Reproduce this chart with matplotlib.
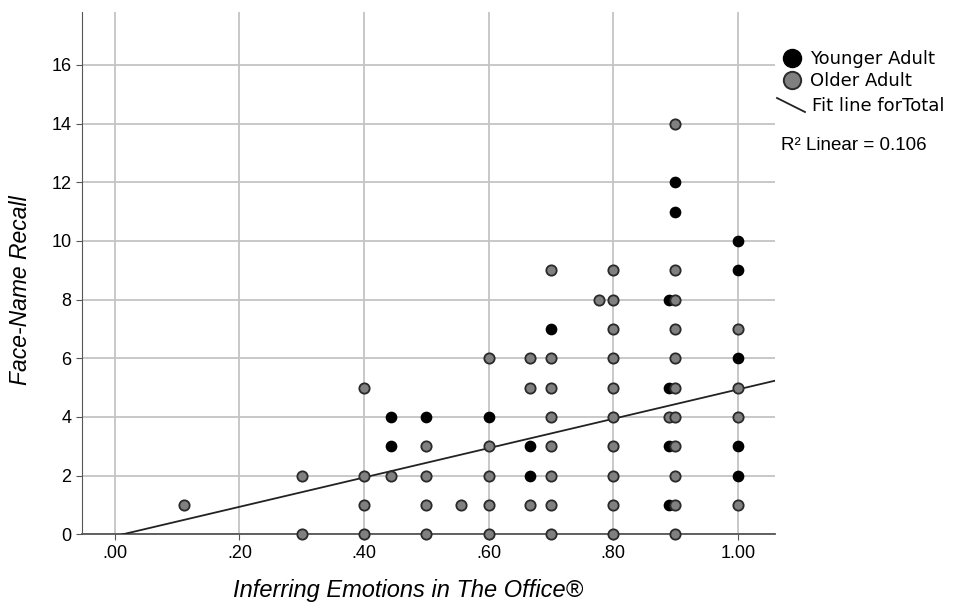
import numpy as np
import matplotlib.pyplot as plt
from matplotlib.lines import Line2D

plt.rcParams['font.family'] = ['Liberation Sans', 'DejaVu Sans']

# younger adults (black)
young_x = [0.444, 0.444, 0.50, 0.60, 0.667, 0.667, 0.70,
           0.889, 0.889, 0.889, 0.889, 0.90, 0.90,
           1.00, 1.00, 1.00, 1.00, 1.00]
young_y = [4, 3, 4, 4, 3, 2, 7,
           8, 5, 3, 1, 12, 11,
           10, 9, 6, 3, 2]

# older adults (gray)
old_x = [0.111, 0.30, 0.30, 0.40, 0.40, 0.40, 0.40, 0.444,
         0.50, 0.50, 0.50, 0.50, 0.556,
         0.60, 0.60, 0.60, 0.60, 0.60,
         0.667, 0.667, 0.667,
         0.70, 0.70, 0.70, 0.70, 0.70, 0.70, 0.70, 0.70, 0.778,
         0.80, 0.80, 0.80, 0.80, 0.80, 0.80, 0.80, 0.80, 0.80, 0.80,
         0.889,
         0.90, 0.90, 0.90, 0.90, 0.90, 0.90, 0.90, 0.90, 0.90, 0.90, 0.90,
         1.00, 1.00, 1.00, 1.00]
old_y = [1, 2, 0, 5, 2, 1, 0, 2,
         3, 2, 1, 0, 1,
         6, 3, 2, 1, 0,
         6, 5, 1,
         9, 6, 5, 4, 3, 2, 1, 0, 8,
         9, 8, 7, 6, 5, 4, 3, 2, 1, 0,
         4,
         14, 9, 8, 7, 6, 5, 4, 3, 2, 1, 0,
         7, 5, 4, 1]

fit_slope = 5.0
fit_intercept = -0.066
r2_text = "R\u00b2 Linear = 0.106"

xticks = [0.0, 0.2, 0.4, 0.6, 0.8, 1.0]
xticklabels = [".00", ".20", ".40", ".60", ".80", "1.00"]
yticks = list(range(0, 17, 2))

fig = plt.figure(figsize=(9.64, 6.05), dpi=100)
ax = fig.add_axes([0.085, 0.117, 0.719, 0.863])

ax.set_xlim(-0.053, 1.06)
ax.set_ylim(0, 17.8)
ax.set_xticks(xticks)
ax.set_xticklabels(xticklabels)
ax.set_yticks(yticks)
ax.grid(True, color='#c4c4c4', lw=1.3)
ax.set_axisbelow(True)
for s in ['top', 'right']:
    ax.spines[s].set_visible(False)
ax.spines['left'].set_color('#555555')
ax.spines['bottom'].set_color('#555555')
ax.spines['bottom'].set_linewidth(1.3)
ax.tick_params(labelsize=13, length=4, color='#555555')

xs = np.array(ax.get_xlim())
ax.plot(xs, fit_slope * xs + fit_intercept, color='#222222', lw=1.3, zorder=3)

ax.scatter(young_x, young_y, s=55, c='black', edgecolors='black', lw=1.0, zorder=4, clip_on=False)
ax.scatter(old_x, old_y, s=55, c='#808080', edgecolors='#2a2a2a', lw=1.3, zorder=5, clip_on=False)

ax.set_xlabel("Inferring Emotions in The Office\u00ae", fontsize=17, style='italic', va='center')
ax.xaxis.set_label_coords(0.47, -0.107)
ax.set_ylabel("Face-Name Recall", fontsize=16.5, style='italic', va='center')
ax.yaxis.set_label_coords(-0.089, 0.467)

# legend drawn by hand
def fy(py):
    return 1 - py / 605

fig.add_artist(Line2D([792 / 964], [fy(58)], marker='o', ms=13, color='black',
                      transform=fig.transFigure))
fig.add_artist(Line2D([792 / 964], [fy(80)], marker='o', ms=12.5, color='#808080',
                      markeredgecolor='#2a2a2a', markeredgewidth=1.4, transform=fig.transFigure))
fig.add_artist(Line2D([777 / 964, 805 / 964], [fy(98), fy(112)], color='#222222',
                      lw=1.3, transform=fig.transFigure))
fig.text(810 / 964, fy(59), "Younger Adult", fontsize=13, va='center', family='DejaVu Sans')
fig.text(810 / 964, fy(81), "Older Adult", fontsize=13, va='center', family='DejaVu Sans')
fig.text(812 / 964, fy(106), "Fit line forTotal", fontsize=13, va='center', family='DejaVu Sans')
fig.text(781 / 964, fy(145), r2_text, fontsize=13.5, va='center')

fig.savefig("out.png", dpi=100)
